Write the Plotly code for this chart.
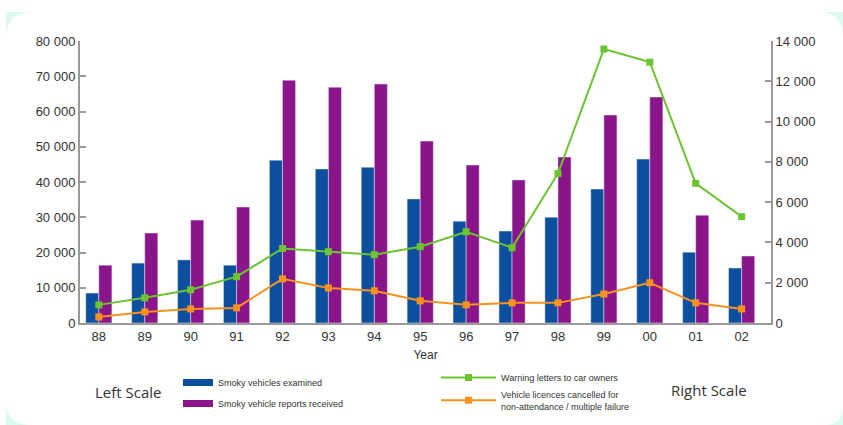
import plotly.graph_objects as go

years = ["88", "89", "90", "91", "92", "93", "94", "95", "96", "97", "98", "99", "00", "01", "02"]
examined = [8500, 17000, 17900, 16400, 46200, 43700, 44200, 35200, 28900, 26100, 30000, 38000, 46500, 20100, 15600]
reports = [16400, 25500, 29200, 32900, 68900, 66900, 67800, 51600, 44800, 40600, 47100, 59000, 64100, 30600, 19000]
warnings = [900, 1250, 1650, 2300, 3700, 3540, 3390, 3790, 4530, 3740, 7420, 13600, 12950, 6930, 5280]
cancelled = [300, 550, 700, 750, 2190, 1740, 1600, 1100, 900, 1000, 1000, 1440, 2000, 1000, 700]

W, H = 843, 425
L, R, T, B = 80, 72, 41, 102
PW, PH = W - L - R, H - T - B

def px(x):
    return (x - L) / PW

def py(y):
    return (T + PH - y) / PH

BLUE = "#0c4f9f"
PURPLE = "#8a1489"
GREEN = "#6cc530"
ORANGE = "#f7921e"
MINT = "#dcfbee"
AX = "#9a9a9a"
TXT = "#333333"

fig = go.Figure()
fig.add_bar(x=years, y=examined, name="Smoky vehicles examined", marker_color=BLUE,
            showlegend=False)
fig.add_bar(x=years, y=reports, name="Smoky vehicle reports received", marker_color=PURPLE,
            showlegend=False)
fig.add_scatter(x=years, y=warnings, name="Warning letters to car owners", yaxis="y2",
                mode="lines+markers", line=dict(color=GREEN, width=2),
                marker=dict(symbol="square", size=7, color=GREEN),
                legendgroup="c", legend="legend2")
fig.add_scatter(x=years, y=cancelled,
                name="Vehicle licences cancelled for<br>non-attendance / multiple failure",
                yaxis="y2", mode="lines+markers", line=dict(color=ORANGE, width=2),
                marker=dict(symbol="square", size=7, color=ORANGE),
                legendgroup="d", legend="legend2")
# legend keys for the bar series (wide swatches as in the original key)
fig.add_scatter(x=[None], y=[None], mode="lines", line=dict(color=BLUE, width=7),
                name="Smoky vehicles examined", legendgroup="a", legend="legend")
fig.add_scatter(x=[None], y=[None], mode="lines", line=dict(color=PURPLE, width=7),
                name="Smoky vehicle reports received", legendgroup="b", legend="legend")

def corner(points):
    (x0, y0), (x1, y1), (cx, cy), (x2, y2) = points
    return (f"M {px(x0)},{py(y0)} L {px(x1)},{py(y1)} "
            f"Q {px(cx)},{py(cy)} {px(x2)},{py(y2)} Z")

shapes = []
for pts in [
    [(6, 12), (33, 12), (6, 12), (6, 38)],
    [(843, 12), (818, 12), (843, 12), (843, 36)],
    [(6, 425), (6, 400), (6, 425), (30, 425)],
    [(843, 425), (843, 405), (843, 425), (826, 425)],
]:
    shapes.append(dict(type="path", path=corner(pts), xref="paper", yref="paper",
                       fillcolor=MINT, line=dict(width=0), layer="below"))

fig.update_layout(
    width=W, height=H,
    margin=dict(l=L, r=R, t=T, b=B, autoexpand=False),
    paper_bgcolor="white", plot_bgcolor="white",
    separators=". ",
    font=dict(family="Liberation Sans, Arial, sans-serif", size=13, color=TXT),
    barmode="group", bargap=0.43, bargroupgap=0,
    xaxis=dict(range=[-0.41, 14.64], showgrid=False, showline=True, linecolor=AX,
               linewidth=2, ticks="", tickfont=dict(size=13), automargin=False,
               title=dict(text="Year", font=dict(size=12), standoff=8)),
    yaxis=dict(range=[0, 80000], dtick=10000, tickformat=",d", showgrid=False,
               showline=True, linecolor=AX, linewidth=2, ticks="inside", ticklen=6,
               tickcolor=AX, tickwidth=1.5, zeroline=False, tickfont=dict(size=13),
               automargin=False),
    yaxis2=dict(range=[0, 14000], dtick=2000, tickformat=",d", overlaying="y", side="right",
                showgrid=False, showline=True, linecolor=AX, linewidth=2, ticks="inside",
                ticklen=6, tickcolor=AX, tickwidth=1.5, zeroline=False, tickfont=dict(size=13),
                automargin=False),
    legend=dict(x=px(178), y=py(368), xanchor="left", yanchor="top",
                traceorder="grouped", tracegroupgap=2, itemwidth=30,
                font=dict(size=9, color=TXT), bgcolor="rgba(0,0,0,0)"),
    legend2=dict(x=px(436), y=py(363), xanchor="left", yanchor="top",
                 traceorder="grouped", tracegroupgap=0, itemwidth=55,
                 font=dict(size=9, color=TXT), bgcolor="rgba(0,0,0,0)"),
    shapes=shapes,
    annotations=[
        dict(text="Left Scale", x=px(93), y=py(392), xref="paper", yref="paper",
             showarrow=False, xanchor="left", yanchor="middle",
             font=dict(family="Open Sans, sans-serif", size=15, color=TXT)),
        dict(text="Right Scale", x=px(669), y=py(390), xref="paper", yref="paper",
             showarrow=False, xanchor="left", yanchor="middle",
             font=dict(family="Open Sans, sans-serif", size=15, color=TXT)),
    ],
)

fig.write_html("out.html", config={"displayModeBar": False},
               post_script="document.body.style.margin='0';document.body.style.overflow='hidden';")
